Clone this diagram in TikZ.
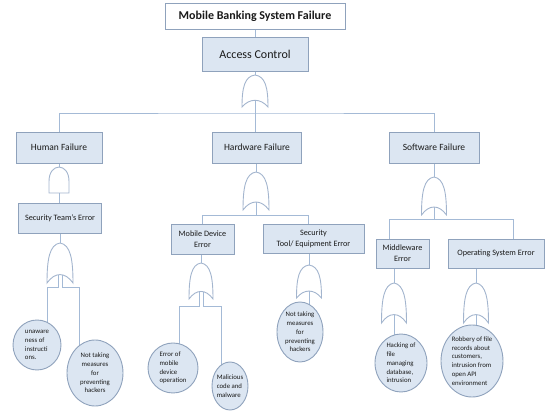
\documentclass[tikz,border=0pt]{standalone}
\usepackage{fontspec}
\setmainfont{Carlito}
\usetikzlibrary{shapes.geometric,backgrounds}
\definecolor{boxfill}{HTML}{DCE6F2}
\definecolor{boxedge}{HTML}{8FA2BC}
\definecolor{linkc}{HTML}{A4BAD6}
\definecolor{gateedge}{HTML}{A3B5CE}
\definecolor{txt}{HTML}{1A1A1A}

\tikzset{
  % OR gate: pointed top, concave bottom; origin at the top tip
  pics/orgate/.style 2 args={code={
    \path[gate] (0,0) .. controls (#1*0.8,#2*0.04) and (#1,#2*0.4) .. (#1,#2)
      .. controls (#1*0.4,#2*0.72) and (-#1*0.4,#2*0.72) .. (-#1,#2)
      .. controls (-#1,#2*0.4) and (-#1*0.8,#2*0.04) .. cycle;
    \coordinate (-top) at (0,0);
    \coordinate (-apex) at (0,#2*0.79);
    \coordinate (-al) at (-2,#2*0.79);
    \coordinate (-ar) at (2,#2*0.79);
  }},
  % AND gate: rounded top, flat bottom; origin at the top
  pics/andgate/.style 2 args={code={
    \path[gate] (-#1,#2) -- (-#1,#2*0.55)
      .. controls (-#1,-#2*0.18) and (#1,-#2*0.18) .. (#1,#2*0.55)
      -- (#1,#2) -- cycle;
    \coordinate (-top) at (0,0);
    \coordinate (-bot) at (0,#2);
  }},
}

\begin{document}
\begin{tikzpicture}[x=1pt,y=-1pt,
  box/.style={draw=boxedge, fill=boxfill, line width=0.9pt, align=center,
              text=txt, inner sep=0pt},
  leaf/.style={ellipse, draw=boxedge, fill=boxfill, line width=0.9pt,
               text=txt, inner sep=-8pt, font=\fontsize{6.8}{8.8}\selectfont},
  link/.style={draw=linkc, line width=0.9pt},
  gate/.style={draw=gateedge, fill=white, line width=0.9pt},
  big/.style={font=\fontsize{12}{14}\selectfont},
  mid/.style={font=\fontsize{9.5}{11}\selectfont},
  sml/.style={font=\fontsize{8.2}{11}\selectfont},
]
\useasboundingbox (0,0) rectangle (547,411);

% ---- event boxes
\node[box, fill=white, minimum width=180pt, minimum height=26pt,
      font=\bfseries\fontsize{12}{14}\selectfont] (top) at (255,16)
      {Mobile Banking System Failure};
\node[box, big, minimum width=106pt, minimum height=34pt] (acc) at (255,54) {Access Control};

\node[box, mid, minimum width=86pt, minimum height=31pt] (hum) at (59,147.5) {Human Failure};
\node[box, mid, minimum width=89pt, minimum height=31pt] (hw) at (257,147.5) {Hardware Failure};
\node[box, mid, minimum width=90pt, minimum height=31pt] (soft) at (434,147.5) {Software Failure};

\node[box, sml, minimum width=83pt, minimum height=30pt] (sec) at (60,218) {Security Team's Error};
\node[box, sml, minimum width=63pt, minimum height=30pt] (mob) at (202.5,239) {Mobile Device\\Error};
\node[box, sml, minimum width=101pt, minimum height=29pt] (tool) at (313.5,238.5) {Security\\Tool/ Equipment Error};
\node[box, sml, minimum width=53pt, minimum height=29pt] (midw) at (402.5,253.5) {Middleware\\Error};
\node[box, sml, minimum width=96pt, minimum height=29pt] (os) at (496,253.5) {Operating System Error};

% ---- basic events
\node[leaf, align=left, minimum width=48pt, minimum height=50pt] (c1) at (37,345)
      {unaware\\ness of\\instructi\\ons.};
\node[leaf, align=center, minimum width=56pt, minimum height=66pt] (c2) at (95,373)
      {Not taking\\measures\\for\\preventing\\hackers};
\node[leaf, align=left, minimum width=50pt, minimum height=50pt] (c3) at (173,368)
      {Error of\\mobile\\device\\operation};
\node[leaf, align=left, minimum width=36pt, minimum height=48pt] (c4) at (230,386)
      {Malicious\\code and\\malware};
\node[leaf, align=center, minimum width=46pt, minimum height=60pt] (c5) at (300,332)
      {Not taking\\measures\\for\\preventing\\hackers};
\node[leaf, align=left, minimum width=52pt, minimum height=58pt] (c6) at (401,363)
      {Hacking of\\file\\managing\\database,\\intrusion};
\node[leaf, align=left, minimum width=62pt, minimum height=72pt] (c7) at (472,361)
      {Robbery of file\\records about\\customers,\\intrusion from\\open API\\environment};

% ---- gates
\pic (g0) at (255,75)  {orgate={13}{32}};
\pic (g1) at (59,167)  {andgate={10}{26}};
\pic (g2) at (60,243)  {orgate={13}{40}};
\pic (g3) at (256,172) {orgate={13}{38}};
\pic (g4) at (201,263) {orgate={12}{36}};
\pic (g5) at (309,265) {orgate={12.5}{33}};
\pic (g6) at (434,177) {orgate={12.5}{38}};
\pic (g7) at (394,283) {orgate={12.5}{40}};
\pic (g8) at (476,283) {orgate={12.5}{40}};

% ---- junction points
\coordinate (b0)  at (255,113);
\coordinate (b3l) at (202,215);
\coordinate (b3r) at (308,215);
\coordinate (b6l) at (389,219);
\coordinate (b6r) at (513,219);
\coordinate (k2l) at (47,287);
\coordinate (k2r) at (79,287);
\coordinate (k4l) at (179,306);
\coordinate (k4r) at (221,306);

% ---- connectors
\begin{scope}[on background layer]
  \draw[link] (top.south) -- (acc.north);
  \draw[link] (acc.south) -- (g0-top);
  \draw[link] (g0-apex) -- (b0);
  \draw[link] (hum.north) |- (b0) -| (soft.north);
  \draw[link] (b0) -- (b0 |- hw.north);

  \draw[link] (hum.south) -- (g1-top);
  \draw[link] (g1-bot) -- (g1-bot |- sec.north);
  \draw[link] (g2-top |- sec.south) -- (g2-top);
  \draw[link] (g2-al) |- (k2l) -- (k2l |- c1.center);
  \draw[link] (g2-ar) |- (k2r) -- (k2r |- c2.center);

  \draw[link] (g3-top |- hw.south) -- (g3-top);
  \draw[link] (g3-apex) -- (g3-apex |- b3l);
  \draw[link] (b3l |- mob.north) -- (b3l) -- (b3r) -- (b3r |- tool.north);
  \draw[link] (g4-top |- mob.south) -- (g4-top);
  \draw[link] (g4-al) |- (k4l) -- (k4l |- c3.center);
  \draw[link] (g4-ar) |- (k4r) -- (k4r |- c4.center);
  \draw[link] (g5-top |- tool.south) -- (g5-top);
  \draw[link] (g5-apex) -- (g5-apex |- c5.center);

  \draw[link] (soft.south) -- (g6-top);
  \draw[link] (g6-apex) -- (g6-apex |- b6l);
  \draw[link] (b6l |- midw.north) -- (b6l) -- (b6r) -- (b6r |- os.north);
  \draw[link] (g7-top |- midw.south) -- (g7-top);
  \draw[link] (g7-apex) -- (g7-apex |- c6.center);
  \draw[link] (g8-top |- os.south) -- (g8-top);
  \draw[link] (g8-apex) -- (g8-apex |- c7.center);
\end{scope}
\end{tikzpicture}
\end{document}
